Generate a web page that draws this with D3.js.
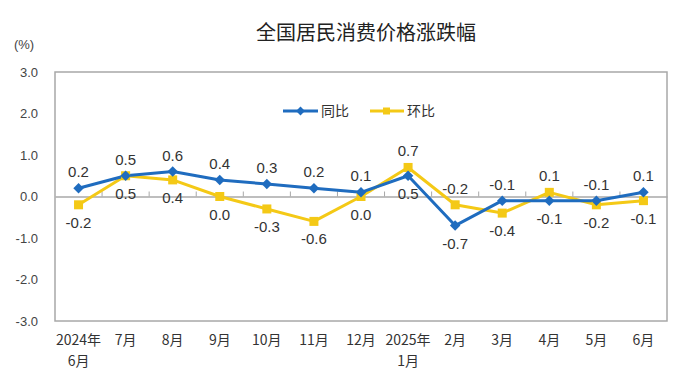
<!DOCTYPE html>
<html><head><meta charset="utf-8">
<script src="https://cdn.jsdelivr.net/npm/d3@7"></script>
<style>
html,body{margin:0;padding:0;background:#fff;}
svg{display:block;}
</style>
</head><body>
<svg id="chart" width="680" height="379"></svg>
<script>
const categories = ["2024年|6月","7月","8月","9月","10月","11月","12月","2025年|1月","2月","3月","4月","5月","6月"];
const yoyName = "同比";
const momName = "环比";
const yoy = [0.2, 0.5, 0.6, 0.4, 0.3, 0.2, 0.1, 0.5, -0.7, -0.1, -0.1, -0.1, 0.1];
const mom = [-0.2, 0.5, 0.4, 0.0, -0.3, -0.6, 0.0, 0.7, -0.2, -0.4, 0.1, -0.2, -0.1];
const yTicks = [-3, -2, -1, 0, 1, 2, 3];
const title = "全国居民消费价格涨跌幅";
const unit = "(%)";

const svg = d3.select("#chart");
const L = 55, R = 667, T = 72, B = 321;
const blue = "#1f6cbf", yellow = "#f4c916", grey = "#a8a8a8";
const numFont = "'Liberation Sans', Arial, sans-serif";
const cjkFont = "'Noto Sans CJK SC', sans-serif";

const x = d3.scaleBand().domain(categories).range([L, R]).padding(0);
const y = d3.scaleLinear().domain([-3, 3]).range([B, T]);
const cx = c => x(c) + x.bandwidth() / 2;

// title
svg.append("text").attr("x", 366).attr("y", 40).attr("text-anchor", "middle")
  .attr("font-family", cjkFont).attr("font-size", 20).attr("fill", "#222").text(title);
svg.append("text").attr("x", 24).attr("y", 49).attr("text-anchor", "middle")
  .attr("font-family", numFont).attr("font-size", 13).attr("fill", "#444").text(unit);

// plot frame
svg.append("rect").attr("x", L).attr("y", T).attr("width", R - L).attr("height", B - T)
  .attr("fill", "none").attr("stroke", grey).attr("stroke-width", 1.5);

// y axis
const yAxis = svg.append("g").attr("transform", `translate(${L},0)`)
  .call(d3.axisLeft(y).tickValues(yTicks).tickSize(0).tickPadding(17).tickFormat(v => v.toFixed(1)));
yAxis.select(".domain").remove();
yAxis.selectAll("text").attr("font-family", numFont).attr("font-size", 13).attr("fill", "#444");

// zero line with ticks
const zeroAxis = svg.append("g").attr("transform", `translate(0,${y(0)})`)
  .call(d3.axisTop(x).tickSize(0).tickFormat(""));
zeroAxis.select(".domain").attr("stroke", grey).attr("stroke-width", 1.5);
zeroAxis.selectAll(".tick").remove();
svg.append("g").selectAll("line").data(categories.slice(1)).join("line")
  .attr("x1", d => x(d)).attr("x2", d => x(d))
  .attr("y1", y(0)).attr("y2", y(0) - 5)
  .attr("stroke", grey).attr("stroke-width", 1);

// x labels
const xLab = svg.append("g").attr("font-family", cjkFont).attr("font-size", 14).attr("fill", "#333");
categories.forEach(c => {
  const parts = c.split("|");
  const t = xLab.append("text").attr("x", cx(c)).attr("y", 345).attr("text-anchor", "middle");
  parts.forEach((p, i) => t.append("tspan").attr("x", cx(c)).attr("dy", i === 0 ? 0 : 21).text(p));
});

// lines
const line = d3.line().x((d, i) => cx(categories[i])).y(d => y(d));
svg.append("path").datum(mom).attr("d", line).attr("fill", "none")
  .attr("stroke", yellow).attr("stroke-width", 3).attr("stroke-linejoin", "round");
svg.append("path").datum(yoy).attr("d", line).attr("fill", "none")
  .attr("stroke", blue).attr("stroke-width", 3).attr("stroke-linejoin", "round");

// markers
const sq = 9;
svg.append("g").selectAll("rect").data(mom).join("rect")
  .attr("x", (d, i) => cx(categories[i]) - sq / 2).attr("y", d => y(d) - sq / 2)
  .attr("width", sq).attr("height", sq).attr("fill", yellow);
const diamond = d3.symbol().type(d3.symbolDiamond2).size(70);
svg.append("g").selectAll("path").data(yoy).join("path")
  .attr("transform", (d, i) => `translate(${cx(categories[i])},${y(d)})`)
  .attr("d", diamond).attr("fill", blue);

// data labels: the higher series above, the lower below
const lab = svg.append("g").attr("font-family", numFont).attr("font-size", 15)
  .attr("fill", "#333").attr("text-anchor", "middle");
categories.forEach((c, i) => {
  const a = yoy[i], b = mom[i];
  const yoyUp = a >= b;
  const place = (v, up) => {
    lab.append("text").attr("x", cx(c))
      .attr("y", up ? y(v) - 11 : y(v) + 23).text(v.toFixed(1));
  };
  place(a, yoyUp);
  place(b, !yoyUp);
});

// legend
const lg = svg.append("g");
lg.append("line").attr("x1", 283).attr("x2", 318).attr("y1", 111).attr("y2", 111)
  .attr("stroke", blue).attr("stroke-width", 3);
lg.append("path").attr("transform", "translate(300.5,111)").attr("d", d3.symbol().type(d3.symbolDiamond2).size(50)).attr("fill", blue);
lg.append("text").attr("x", 321).attr("y", 116).attr("font-family", cjkFont).attr("font-size", 14).attr("fill", "#333").text(yoyName);
lg.append("line").attr("x1", 370).attr("x2", 404).attr("y1", 111).attr("y2", 111)
  .attr("stroke", yellow).attr("stroke-width", 3);
lg.append("rect").attr("x", 383).attr("y", 107.5).attr("width", 7).attr("height", 7).attr("fill", yellow);
lg.append("text").attr("x", 407).attr("y", 116).attr("font-family", cjkFont).attr("font-size", 14).attr("fill", "#333").text(momName);
</script>
</body></html>
